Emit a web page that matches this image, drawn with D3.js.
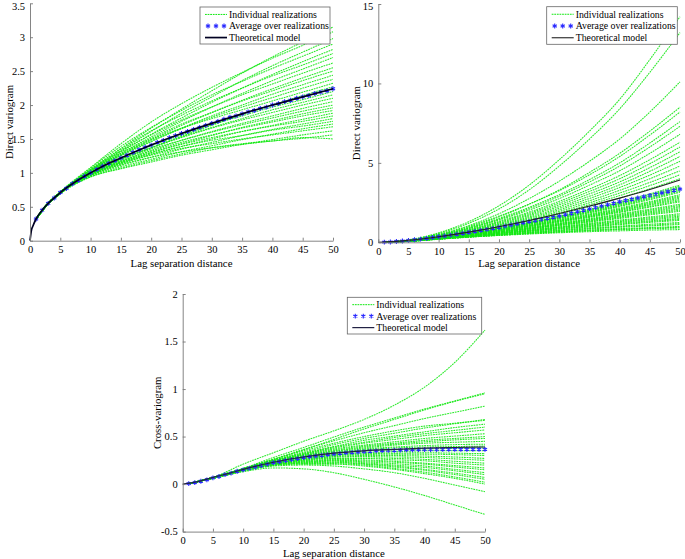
<!DOCTYPE html>
<html><head><meta charset="utf-8">
<script src="https://cdn.jsdelivr.net/npm/d3@7"></script>
<style>
body{margin:0;background:#fff;}
svg{display:block;}
text{font-family:"Liberation Serif","Times New Roman",serif;fill:#000;}
</style></head>
<body>
<svg id="chart" width="685" height="559"></svg>
<script>
// ---------------- DATA ----------------
const xTicks = [0,5,10,15,20,25,30,35,40,45,50];
const yTicksP1 = [0,0.5,1,1.5,2,2.5,3,3.5];
const yTicksP2 = [0,5,10,15];
const yTicksP3 = [-0.5,0,0.5,1,1.5,2];
const legendLabels = ["Individual realizations","Average over realizations","Theoretical model"];
const xLabel = "Lag separation distance";
const yLabels = ["Direct variogram","Direct variogram","Cross-variogram"];
const avgLags = d3.range(1, 51);

// Panel 1 (direct variogram, variable 1)
const lagsP1 = [1,2.5,5,10,15,20,25,30,35,40,45,50];
const realP1 = [
 [0.32,0.51,0.72,1.05,1.36,1.66,1.94,2.21,2.47,2.71,2.93,3.15],
 [0.31,0.50,0.72,1.08,1.43,1.75,2.02,2.26,2.48,2.69,2.88,3.08],
 [0.33,0.51,0.71,1.04,1.33,1.61,1.88,2.12,2.36,2.58,2.78,2.98],
 [0.32,0.50,0.70,1.07,1.39,1.67,1.92,2.15,2.35,2.54,2.72,2.90],
 [0.31,0.49,0.71,1.03,1.31,1.57,1.81,2.04,2.25,2.45,2.64,2.82],
 [0.32,0.50,0.72,1.05,1.35,1.62,1.85,2.06,2.25,2.43,2.59,2.76],
 [0.32,0.51,0.70,1.02,1.29,1.53,1.76,1.97,2.17,2.36,2.53,2.70],
 [0.31,0.50,0.71,1.04,1.32,1.56,1.78,1.97,2.15,2.31,2.47,2.62],
 [0.32,0.50,0.71,1.02,1.27,1.49,1.70,1.89,2.07,2.24,2.40,2.55],
 [0.33,0.51,0.72,1.03,1.29,1.51,1.72,1.89,2.06,2.21,2.36,2.50],
 [0.32,0.50,0.70,1.01,1.25,1.46,1.66,1.84,2.00,2.16,2.30,2.44],
 [0.31,0.49,0.71,1.01,1.26,1.47,1.65,1.82,1.97,2.11,2.25,2.38],
 [0.32,0.51,0.72,1.02,1.27,1.49,1.66,1.80,1.93,2.06,2.19,2.32],
 [0.32,0.50,0.70,0.99,1.20,1.37,1.54,1.70,1.86,2.00,2.14,2.27],
 [0.32,0.50,0.71,1.00,1.22,1.40,1.56,1.71,1.84,1.97,2.08,2.20],
 [0.31,0.49,0.70,0.99,1.20,1.37,1.53,1.67,1.80,1.93,2.04,2.15],
 [0.32,0.50,0.71,0.99,1.20,1.37,1.52,1.66,1.78,1.89,2.00,2.10],
 [0.32,0.50,0.70,0.98,1.17,1.33,1.48,1.61,1.73,1.84,1.95,2.05],
 [0.31,0.49,0.70,0.99,1.18,1.35,1.48,1.60,1.71,1.81,1.91,2.00],
 [0.32,0.50,0.71,0.97,1.15,1.30,1.43,1.55,1.67,1.77,1.87,1.96],
 [0.32,0.50,0.70,0.98,1.17,1.32,1.45,1.56,1.66,1.75,1.84,1.92],
 [0.31,0.49,0.70,0.96,1.13,1.27,1.39,1.50,1.61,1.70,1.79,1.88],
 [0.32,0.50,0.71,0.98,1.16,1.30,1.42,1.52,1.61,1.69,1.76,1.84],
 [0.32,0.50,0.70,0.96,1.11,1.23,1.35,1.45,1.55,1.64,1.72,1.80],
 [0.31,0.49,0.70,0.98,1.15,1.28,1.39,1.48,1.55,1.63,1.69,1.76],
 [0.32,0.50,0.70,0.95,1.09,1.20,1.31,1.40,1.49,1.57,1.65,1.72],
 [0.32,0.50,0.70,0.97,1.14,1.26,1.36,1.43,1.50,1.56,1.62,1.68],
 [0.31,0.49,0.69,0.94,1.06,1.16,1.26,1.34,1.42,1.49,1.56,1.62],
 [0.32,0.50,0.70,0.97,1.12,1.23,1.31,1.37,1.42,1.47,1.51,1.56],
 [0.32,0.50,0.70,0.94,1.07,1.18,1.28,1.37,1.43,1.47,1.52,1.50]
];
const avgP1 = [0.32,0.45,0.55,0.63,0.71,0.77,0.84,0.89,0.95,1.00,1.05,1.10,1.14,1.18,1.22,1.26,1.30,1.34,1.38,1.41,
 1.45,1.48,1.52,1.55,1.58,1.61,1.64,1.67,1.70,1.73,1.76,1.79,1.82,1.84,1.87,1.90,1.92,1.95,1.97,2.00,
 2.02,2.05,2.07,2.10,2.12,2.14,2.17,2.19,2.21,2.24];
const modelLagsP1 = [0,0.25,0.5,1,1.5,2,3,4,5,7.5,10,12.5,15,20,25,30,35,40,45,50];
const modelP1 = [0,0.16,0.22,0.32,0.39,0.45,0.55,0.63,0.71,0.87,1.0,1.12,1.22,1.41,1.58,1.73,1.87,2.0,2.12,2.24];

// Panel 2 (direct variogram, variable 2)
const lagsP2 = [1,5,10,15,20,25,30,35,40,45,50];
const realP2 = [
 [0.01,0.15,0.60,1.30,2.30,3.60,5.20,7.00,9.00,11.5,14.2],
 [0.01,0.14,0.55,1.20,2.10,3.30,4.80,6.50,8.40,10.7,13.2],
 [0.01,0.13,0.50,1.05,1.80,2.75,3.85,5.10,6.50,8.20,10.1],
 [0.01,0.12,0.45,0.95,1.60,2.40,3.30,4.40,5.60,7.00,8.5],
 [0.01,0.12,0.47,1.00,1.65,2.40,3.25,4.25,5.40,6.75,8.2],
 [0.01,0.12,0.43,0.90,1.50,2.20,3.00,3.95,5.00,6.25,7.6],
 [0.01,0.11,0.42,0.88,1.45,2.12,2.90,3.80,4.80,6.00,7.3],
 [0.01,0.11,0.40,0.85,1.40,2.03,2.75,3.60,4.50,5.60,6.8],
 [0.01,0.11,0.38,0.80,1.32,1.90,2.58,3.35,4.20,5.20,6.3],
 [0.01,0.10,0.37,0.78,1.27,1.83,2.47,3.20,4.00,4.95,6.0],
 [0.01,0.10,0.36,0.75,1.22,1.75,2.36,3.05,3.80,4.70,5.7],
 [0.01,0.10,0.35,0.72,1.17,1.68,2.25,2.90,3.62,4.47,5.4],
 [0.01,0.10,0.34,0.70,1.12,1.60,2.15,2.76,3.45,4.23,5.1],
 [0.01,0.10,0.33,0.67,1.08,1.53,2.05,2.62,3.27,4.00,4.8],
 [0.01,0.09,0.32,0.65,1.03,1.46,1.95,2.49,3.10,3.77,4.5],
 [0.01,0.09,0.31,0.62,0.99,1.40,1.86,2.37,2.94,3.57,4.25],
 [0.01,0.09,0.30,0.60,0.95,1.34,1.77,2.25,2.78,3.37,4.0],
 [0.01,0.09,0.29,0.57,0.90,1.26,1.66,2.08,2.55,3.05,3.6],
 [0.01,0.09,0.29,0.56,0.89,1.24,1.63,2.04,2.50,2.99,3.52],
 [0.01,0.09,0.29,0.56,0.88,1.22,1.60,2.00,2.44,2.92,3.45],
 [0.01,0.09,0.28,0.55,0.86,1.20,1.57,1.96,2.39,2.86,3.38],
 [0.01,0.09,0.28,0.54,0.85,1.18,1.54,1.92,2.34,2.80,3.3],
 [0.01,0.08,0.28,0.54,0.83,1.16,1.51,1.88,2.29,2.74,3.22],
 [0.01,0.08,0.28,0.53,0.82,1.14,1.48,1.85,2.25,2.68,3.15],
 [0.01,0.08,0.27,0.51,0.79,1.10,1.43,1.78,2.16,2.56,3.0],
 [0.01,0.08,0.27,0.50,0.78,1.08,1.40,1.74,2.10,2.50,2.92],
 [0.01,0.08,0.27,0.50,0.77,1.06,1.37,1.70,2.06,2.44,2.85],
 [0.01,0.08,0.26,0.49,0.75,1.04,1.34,1.66,2.01,2.38,2.78],
 [0.01,0.08,0.26,0.48,0.74,1.02,1.32,1.63,1.97,2.33,2.7],
 [0.01,0.08,0.26,0.48,0.73,1.00,1.29,1.60,1.92,2.26,2.62],
 [0.01,0.08,0.26,0.47,0.72,0.98,1.26,1.56,1.88,2.21,2.55],
 [0.01,0.08,0.25,0.45,0.69,0.94,1.20,1.49,1.79,2.09,2.4],
 [0.01,0.08,0.25,0.45,0.68,0.92,1.18,1.45,1.74,2.03,2.32],
 [0.01,0.08,0.25,0.44,0.66,0.90,1.15,1.42,1.69,1.97,2.25],
 [0.01,0.07,0.24,0.44,0.65,0.88,1.12,1.38,1.64,1.91,2.18],
 [0.01,0.07,0.24,0.43,0.64,0.86,1.10,1.34,1.60,1.85,2.1],
 [0.01,0.07,0.24,0.42,0.63,0.84,1.07,1.30,1.55,1.79,2.02],
 [0.01,0.07,0.24,0.42,0.62,0.83,1.05,1.27,1.50,1.73,1.95],
 [0.01,0.07,0.23,0.40,0.59,0.79,0.99,1.20,1.40,1.60,1.8],
 [0.01,0.07,0.23,0.40,0.58,0.77,0.96,1.16,1.35,1.54,1.72],
 [0.01,0.07,0.23,0.39,0.57,0.75,0.94,1.12,1.30,1.48,1.65],
 [0.01,0.07,0.22,0.39,0.56,0.73,0.91,1.08,1.25,1.42,1.58],
 [0.01,0.07,0.22,0.38,0.55,0.71,0.88,1.04,1.20,1.35,1.5],
 [0.01,0.07,0.22,0.37,0.54,0.70,0.85,1.00,1.15,1.30,1.44],
 [0.01,0.07,0.22,0.37,0.53,0.68,0.83,0.97,1.11,1.25,1.38],
 [0.01,0.07,0.21,0.36,0.50,0.64,0.78,0.91,1.02,1.14,1.25],
 [0.01,0.06,0.21,0.35,0.49,0.62,0.75,0.87,0.98,1.08,1.18],
 [0.01,0.06,0.21,0.35,0.48,0.61,0.73,0.84,0.94,1.03,1.12],
 [0.01,0.06,0.20,0.34,0.46,0.58,0.68,0.78,0.86,0.93,1.0],
 [0.01,0.06,0.20,0.33,0.45,0.56,0.66,0.75,0.82,0.89,0.95],
 [0.01,0.06,0.20,0.33,0.44,0.55,0.64,0.72,0.79,0.85,0.9],
 [0.01,0.06,0.19,0.32,0.43,0.52,0.60,0.67,0.72,0.77,0.8]
];
const avgP2 = [0.01,0.02,0.05,0.08,0.12,0.16,0.20,0.25,0.30,0.35,0.40,0.45,0.51,0.57,0.63,0.69,0.75,0.81,0.88,0.95,
 1.02,1.09,1.16,1.23,1.30,1.37,1.44,1.51,1.58,1.65,1.74,1.83,1.92,2.01,2.10,2.19,2.28,2.37,2.46,2.55,
 2.63,2.71,2.79,2.87,2.95,3.03,3.11,3.19,3.27,3.35];
const modelLagsP2 = [0,5,10,15,20,25,30,35,40,45,50];
const modelP2 = [0,0.12,0.35,0.64,0.98,1.37,1.81,2.28,2.78,3.32,3.92];

// Panel 3 (cross-variogram)
const lagsP3 = [1,5,10,15,20,25,30,35,40,45,50];
const realP3 = [
 [0.005,0.07,0.21,0.33,0.45,0.56,0.68,0.83,1.02,1.28,1.62],
 [0.005,0.07,0.165,0.28,0.385,0.495,0.60,0.695,0.79,0.875,0.96],
 [0.005,0.065,0.16,0.26,0.36,0.47,0.58,0.68,0.78,0.87,0.95],
 [0.005,0.07,0.165,0.26,0.365,0.455,0.54,0.615,0.69,0.755,0.82],
 [0.005,0.07,0.165,0.25,0.335,0.415,0.48,0.535,0.59,0.635,0.68],
 [0.005,0.065,0.16,0.26,0.35,0.43,0.50,0.56,0.61,0.64,0.67],
 [0.005,0.065,0.155,0.25,0.325,0.395,0.46,0.505,0.55,0.595,0.63],
 [0.005,0.07,0.16,0.245,0.32,0.39,0.44,0.49,0.53,0.565,0.60],
 [0.005,0.065,0.155,0.245,0.315,0.38,0.43,0.47,0.51,0.54,0.57],
 [0.005,0.07,0.16,0.24,0.31,0.37,0.41,0.445,0.48,0.505,0.53],
 [0.005,0.065,0.155,0.24,0.305,0.36,0.40,0.43,0.46,0.48,0.50],
 [0.005,0.07,0.16,0.24,0.30,0.35,0.39,0.42,0.445,0.465,0.48],
 [0.005,0.065,0.155,0.235,0.295,0.345,0.38,0.41,0.43,0.44,0.45],
 [0.005,0.07,0.155,0.23,0.29,0.335,0.37,0.39,0.405,0.415,0.42],
 [0.005,0.065,0.15,0.23,0.285,0.33,0.36,0.38,0.39,0.395,0.40],
 [0.005,0.065,0.155,0.23,0.285,0.32,0.345,0.36,0.37,0.375,0.38],
 [0.005,0.065,0.155,0.225,0.28,0.31,0.33,0.34,0.35,0.35,0.35],
 [0.005,0.07,0.155,0.225,0.275,0.305,0.32,0.325,0.33,0.325,0.32],
 [0.005,0.065,0.15,0.22,0.27,0.30,0.31,0.315,0.315,0.31,0.30],
 [0.005,0.065,0.155,0.22,0.265,0.29,0.30,0.30,0.295,0.285,0.27],
 [0.005,0.065,0.15,0.22,0.26,0.285,0.29,0.285,0.28,0.265,0.25],
 [0.005,0.065,0.15,0.215,0.255,0.275,0.275,0.27,0.26,0.24,0.22],
 [0.005,0.065,0.15,0.215,0.25,0.27,0.27,0.255,0.245,0.22,0.20],
 [0.005,0.065,0.15,0.21,0.245,0.26,0.255,0.24,0.22,0.195,0.17],
 [0.005,0.065,0.15,0.21,0.24,0.25,0.245,0.23,0.21,0.18,0.15],
 [0.005,0.065,0.145,0.21,0.235,0.245,0.235,0.215,0.19,0.155,0.12],
 [0.005,0.065,0.145,0.205,0.23,0.24,0.225,0.20,0.175,0.14,0.10],
 [0.005,0.065,0.145,0.205,0.225,0.23,0.215,0.19,0.155,0.115,0.07],
 [0.005,0.06,0.14,0.20,0.22,0.225,0.21,0.18,0.145,0.10,0.05],
 [0.005,0.06,0.14,0.20,0.215,0.215,0.20,0.165,0.125,0.075,0.02],
 [0.005,0.06,0.14,0.195,0.21,0.21,0.19,0.155,0.11,0.06,0.00],
 [0.005,0.06,0.14,0.19,0.20,0.19,0.16,0.12,0.06,-0.01,-0.08],
 [0.005,0.06,0.13,0.17,0.16,0.12,0.05,-0.03,-0.12,-0.22,-0.32]
];
const avgP3 = [0.005,0.015,0.03,0.045,0.065,0.08,0.10,0.115,0.135,0.15,0.165,0.18,0.195,0.21,0.225,0.235,0.248,0.258,0.268,0.278,
 0.287,0.295,0.303,0.31,0.317,0.323,0.329,0.334,0.338,0.342,0.346,0.349,0.352,0.354,0.356,0.358,0.36,0.361,0.362,0.363,
 0.364,0.364,0.365,0.365,0.365,0.365,0.365,0.365,0.365,0.365];
const modelLagsP3 = [0,2.5,5,7.5,10,15,20,25,30,35,40,45,50];
const modelP3 = [0,0.025,0.07,0.11,0.155,0.23,0.285,0.325,0.35,0.365,0.378,0.385,0.39];

// ---------------- LAYOUT / STYLE ----------------
const panels = [
 {x0:30, x1:333, yTop:3.3, yBot:240.7, yDom:[0,3.5], yTicks:yTicksP1, lags:lagsP1, real:realP1, avg:avgP1,
  mLags:modelLagsP1, model:modelP1, yLabel:yLabels[0], yLabX:9, xLabY:267,
  modelColor:"#000022", modelW:1.7, legend:{x:200,y:7,w:130,h:37}},
 {x0:378.3, x1:680, yTop:4, yBot:242.3, yDom:[0,15], yTicks:yTicksP2, lags:lagsP2, real:realP2, avg:avgP2,
  mLags:modelLagsP2, model:modelP2, yLabel:yLabels[1], yLabX:356, xLabY:267,
  modelColor:"#222", modelW:1.1, legend:{x:546.7,y:6.7,w:130.6,h:37.6}},
 {x0:182.7, x1:485, yTop:294, yBot:531.6, yDom:[-0.5,2], yTicks:yTicksP3, lags:lagsP3, real:realP3, avg:avgP3,
  mLags:modelLagsP3, model:modelP3, yLabel:yLabels[2], yLabX:157, xLabY:557,
  modelColor:"#222244", modelW:1.2, legend:{x:347.3,y:297.3,w:134.4,h:36.7}}
];
const green = "#12e812";
const blue = "#2a2aff";

const svg = d3.select("#chart");
const star = d3.symbol().type(d3.symbolAsterisk).size(16);

panels.forEach(p => {
  const x = d3.scaleLinear().domain([0,50]).range([p.x0, p.x1]);
  const y = d3.scaleLinear().domain(p.yDom).range([p.yBot, p.yTop]);
  const g = svg.append("g");

  // realizations
  const lineR = d3.line().x((d,i)=>x(p.lags[i])).y(d=>y(d)).curve(d3.curveMonotoneX);
  g.append("g").selectAll("path").data(p.real).join("path")
    .attr("d", lineR).attr("fill","none").attr("stroke",green)
    .attr("stroke-width",1.05).attr("stroke-dasharray","1.8,0.8").attr("opacity",0.9);

  // average stars
  g.append("g").selectAll("path").data(p.avg).join("path")
    .attr("d", star).attr("transform",(d,i)=>`translate(${x(avgLags[i])},${y(d)})`)
    .attr("fill","none").attr("stroke",blue).attr("stroke-width",1.1);

  // model
  const lineM = d3.line().x((d,i)=>x(p.mLags[i])).y(d=>y(d)).curve(d3.curveMonotoneX);
  g.append("path").datum(p.model).attr("d", lineM).attr("fill","none")
    .attr("stroke",p.modelColor).attr("stroke-width",p.modelW);

  // axes
  const xAxis = d3.axisBottom(x).tickValues(xTicks).tickFormat(d=>String(d))
    .tickSizeInner(-3).tickSizeOuter(0).tickPadding(5);
  const yAxis = d3.axisLeft(y).tickValues(p.yTicks).tickFormat(d=>String(d))
    .tickSizeInner(-3).tickSizeOuter(0).tickPadding(5);
  const gx = g.append("g").attr("transform",`translate(0,${p.yBot})`).call(xAxis);
  const gy = g.append("g").attr("transform",`translate(${p.x0},0)`).call(yAxis);
  [gx,gy].forEach(a=>{
    a.select(".domain").attr("stroke","#777").attr("stroke-width",0.9);
    a.selectAll(".tick line").attr("stroke","#777").attr("stroke-width",0.9);
    a.selectAll(".tick text").attr("font-family","Liberation Serif, serif").attr("font-size","10.5px").attr("fill","#222");
  });
  // keep the topmost y label inside the canvas
  gy.selectAll(".tick text").filter(d => y(d) < 6).attr("dy","0.55em");

  // axis labels
  g.append("text").attr("x",(p.x0+p.x1)/2).attr("y",p.xLabY).attr("text-anchor","middle")
    .attr("font-size","10.8px").attr("fill","#222").text(xLabel);
  g.append("text").attr("transform",`translate(${p.yLabX},${(p.yTop+p.yBot)/2}) rotate(-90)`)
    .attr("text-anchor","middle").attr("dy","0.35em").attr("font-size","10.8px").attr("fill","#222").text(p.yLabel);

  // legend
  const L = p.legend;
  const lg = g.append("g");
  lg.append("rect").attr("x",L.x).attr("y",L.y).attr("width",L.w).attr("height",L.h)
    .attr("fill","#fff").attr("stroke","#666").attr("stroke-width",0.8);
  const rowH = L.h/3.2;
  legendLabels.forEach((t,i)=>{
    const cy = L.y + rowH*(i+0.6)+0.5;
    const sx0 = L.x+5, sx1 = L.x+27;
    if(i===0){
      lg.append("line").attr("x1",sx0).attr("x2",sx1).attr("y1",cy).attr("y2",cy)
        .attr("stroke",green).attr("stroke-width",1).attr("stroke-dasharray","1.8,0.8");
    } else if(i===1){
      [sx0+3,(sx0+sx1)/2,sx1-3].forEach(sx=>{
        lg.append("path").attr("d",star).attr("transform",`translate(${sx},${cy})`)
          .attr("fill","none").attr("stroke",blue).attr("stroke-width",1.1);
      });
    } else {
      lg.append("line").attr("x1",sx0).attr("x2",sx1).attr("y1",cy).attr("y2",cy)
        .attr("stroke",p.modelColor).attr("stroke-width",p.modelW);
    }
    lg.append("text").attr("x",L.x+29).attr("y",cy).attr("dy","0.35em")
      .attr("font-size","9.8px").attr("fill","#111").text(t);
  });
});
</script>
</body></html>
